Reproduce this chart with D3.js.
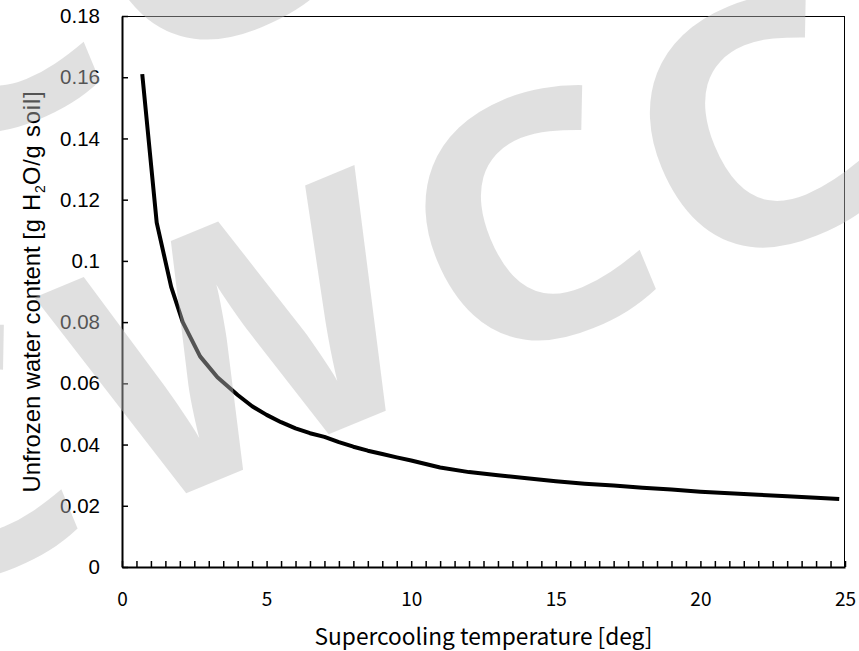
<!DOCTYPE html>
<html>
<head>
<meta charset="utf-8">
<script src="https://cdn.jsdelivr.net/npm/d3@7"></script>
<style>
  html, body { margin: 0; padding: 0; background: #fff; }
  svg { display: block; }
</style>
</head>
<body>
<svg id="chart" width="859" height="651"></svg>
<script>
// ---- data ----
const tempValues = [0.7, 1.2, 1.7, 2.1, 2.7, 3.3, 4.0, 4.5, 5.0, 5.5, 6.0, 6.5, 7.0, 7.5, 8.0, 8.5, 9.0, 9.5,
  10, 11, 12, 13, 14, 15, 16, 17, 18, 19, 20, 21, 22, 23, 24, 24.8];
const waterValues = [0.161, 0.1125, 0.0915, 0.0800, 0.0688, 0.0620, 0.0562, 0.0525, 0.0497, 0.0473, 0.0453,
  0.0437, 0.0425, 0.0408, 0.0393, 0.0380, 0.0369, 0.0358, 0.0348, 0.0325, 0.0310, 0.0300, 0.0290, 0.0280,
  0.0272, 0.0266, 0.0259, 0.0253, 0.0246, 0.0241, 0.0236, 0.0231, 0.0226, 0.0222];
const xTickValues = [0, 5, 10, 15, 20, 25];
const xTickLabels = ["0", "5", "10", "15", "20", "25"];
const yTickValues = [0, 0.02, 0.04, 0.06, 0.08, 0.1, 0.12, 0.14, 0.16, 0.18];
const yTickLabels = ["0", "0.02", "0.04", "0.06", "0.08", "0.1", "0.12", "0.14", "0.16", "0.18"];
const xTitle = "Supercooling temperature [deg]";
const watermarkText = "WCC";

// ---- layout ----
const svg = d3.select("#chart");
const mL = 122, mR = 845, mT = 16, mB = 567;
const x = d3.scaleLinear().domain([0, 25]).range([mL, mR]);
const y = d3.scaleLinear().domain([0, 0.18]).range([mB, mT]);

svg.append("rect").attr("width", 859).attr("height", 651).attr("fill", "#fff");

// frame (top & right thin)
svg.append("line").attr("x1", mL).attr("x2", mR).attr("y1", mT + 0.5).attr("y2", mT + 0.5)
  .attr("stroke", "#000").attr("stroke-width", 1);
svg.append("line").attr("x1", mR - 0.5).attr("x2", mR - 0.5).attr("y1", mT).attr("y2", mB)
  .attr("stroke", "#000").attr("stroke-width", 1);

// y axis
const yAxis = d3.axisLeft(y).tickValues(yTickValues)
  .tickFormat((d, i) => yTickLabels[i]).tickSizeInner(-6).tickSizeOuter(0).tickPadding(22);
const gy = svg.append("g").attr("transform", `translate(${mL},0)`).call(yAxis);
gy.select(".domain").attr("stroke", "#000").attr("stroke-width", 2);
gy.selectAll(".tick line").attr("stroke", "#000").attr("stroke-width", 1.5);
gy.selectAll(".tick text").attr("font-family", "'Liberation Sans', Arial, sans-serif")
  .attr("font-size", 20.5).attr("fill", "#000");

// x axis minor ticks (every 0.5, inward)
const minor = d3.range(0, 25.01, 0.5);
const xMinor = d3.axisBottom(x).tickValues(minor).tickFormat("").tickSizeInner(-6).tickSizeOuter(0);
const gxm = svg.append("g").attr("transform", `translate(0,${mB})`).call(xMinor);
gxm.select(".domain").attr("stroke", "#000").attr("stroke-width", 2.2);
gxm.selectAll(".tick line").attr("stroke", "#000").attr("stroke-width", 1.5);

// x labels
const xAxis = d3.axisBottom(x).tickValues(xTickValues)
  .tickFormat((d, i) => xTickLabels[i]).tickSize(0).tickPadding(26);
const gx = svg.append("g").attr("transform", `translate(0,${mB})`).call(xAxis);
gx.select(".domain").remove();
gx.selectAll(".tick text").attr("font-family", "'Noto Sans CJK JP', sans-serif")
  .attr("font-size", 19).attr("fill", "#000");

// titles
svg.append("text").attr("x", (mL + mR) / 2).attr("y", 645)
  .attr("text-anchor", "middle").attr("font-family", "'Noto Sans CJK JP', sans-serif")
  .attr("font-size", 22.7).attr("fill", "#000").text(xTitle);

const yt = svg.append("text").attr("transform", `translate(40,${(mT + mB) / 2}) rotate(-90)`)
  .attr("text-anchor", "middle").attr("font-family", "'Liberation Sans', Arial, sans-serif")
  .attr("font-size", 23.8).attr("fill", "#000");
yt.append("tspan").text("Unfrozen water content ");
yt.append("tspan").attr("letter-spacing", 0.8).text("[g H");
yt.append("tspan").attr("font-size", 14).attr("dy", 5).text("2");
yt.append("tspan").attr("dy", -5).attr("letter-spacing", 0.8).text("O/g soil]");

// curve
const pts = tempValues.map((t, i) => [t, waterValues[i]]);
svg.append("path").datum(pts)
  .attr("d", d3.line().x(d => x(d[0])).y(d => y(d[1])))
  .attr("fill", "none").attr("stroke", "#000").attr("stroke-width", 4)
  .attr("stroke-linejoin", "round");

// ---- watermark overlay: tiled "WCC" in a frame rotated by -22.5 deg ----
const wmFont = "'Open Sans', sans-serif";
const ctx = document.createElement("canvas").getContext("2d");
ctx.font = `700 100px ${wmFont}`;
const capW = ctx.measureText("W").actualBoundingBoxAscent / 100;
const wmSize = 241 / capW;
ctx.font = `700 ${wmSize}px ${wmFont}`;
const wmSpans = [[-82, 265], [300, 508], [543, 750]];   // ink extents along baseline
const wmPeriod = 868;
const rows = [{du: 0, v: 527}, {du: -434, v: 122}];
const wm = svg.append("g").attr("fill", "#bbb").attr("fill-opacity", 0.45)
  .attr("font-family", wmFont).attr("font-weight", 700).attr("font-size", wmSize);
rows.forEach(r => {
  [-1, 0, 1].forEach(k => {
    watermarkText.split("").forEach((ch, i) => {
      const m = ctx.measureText(ch);
      const inkL = -m.actualBoundingBoxLeft, inkR = m.actualBoundingBoxRight;
      const [a, b] = wmSpans[i];
      const sx = (b - a) / (inkR - inkL);
      const tx = a - sx * inkL + r.du + k * wmPeriod;
      // skip glyphs that fall completely outside the picture
      const u0 = tx + sx * inkL, u1 = tx + sx * inkR;
      const c = Math.cos(22.5 * Math.PI / 180), s = Math.sin(22.5 * Math.PI / 180);
      const corners = [[u0, r.v], [u1, r.v], [u0, r.v - 250], [u1, r.v - 250]]
        .map(([u, v]) => [c * u + s * v, -s * u + c * v]);
      const xs = corners.map(p => p[0]), ys = corners.map(p => p[1]);
      if (Math.max(...xs) < 0 || Math.min(...xs) > 859 || Math.max(...ys) < 0 || Math.min(...ys) > 651) return;
      wm.append("text")
        .attr("transform", `rotate(-22.5) translate(${tx},${r.v}) scale(${sx},1)`)
        .text(ch);
    });
  });
});
</script>
</body>
</html>
